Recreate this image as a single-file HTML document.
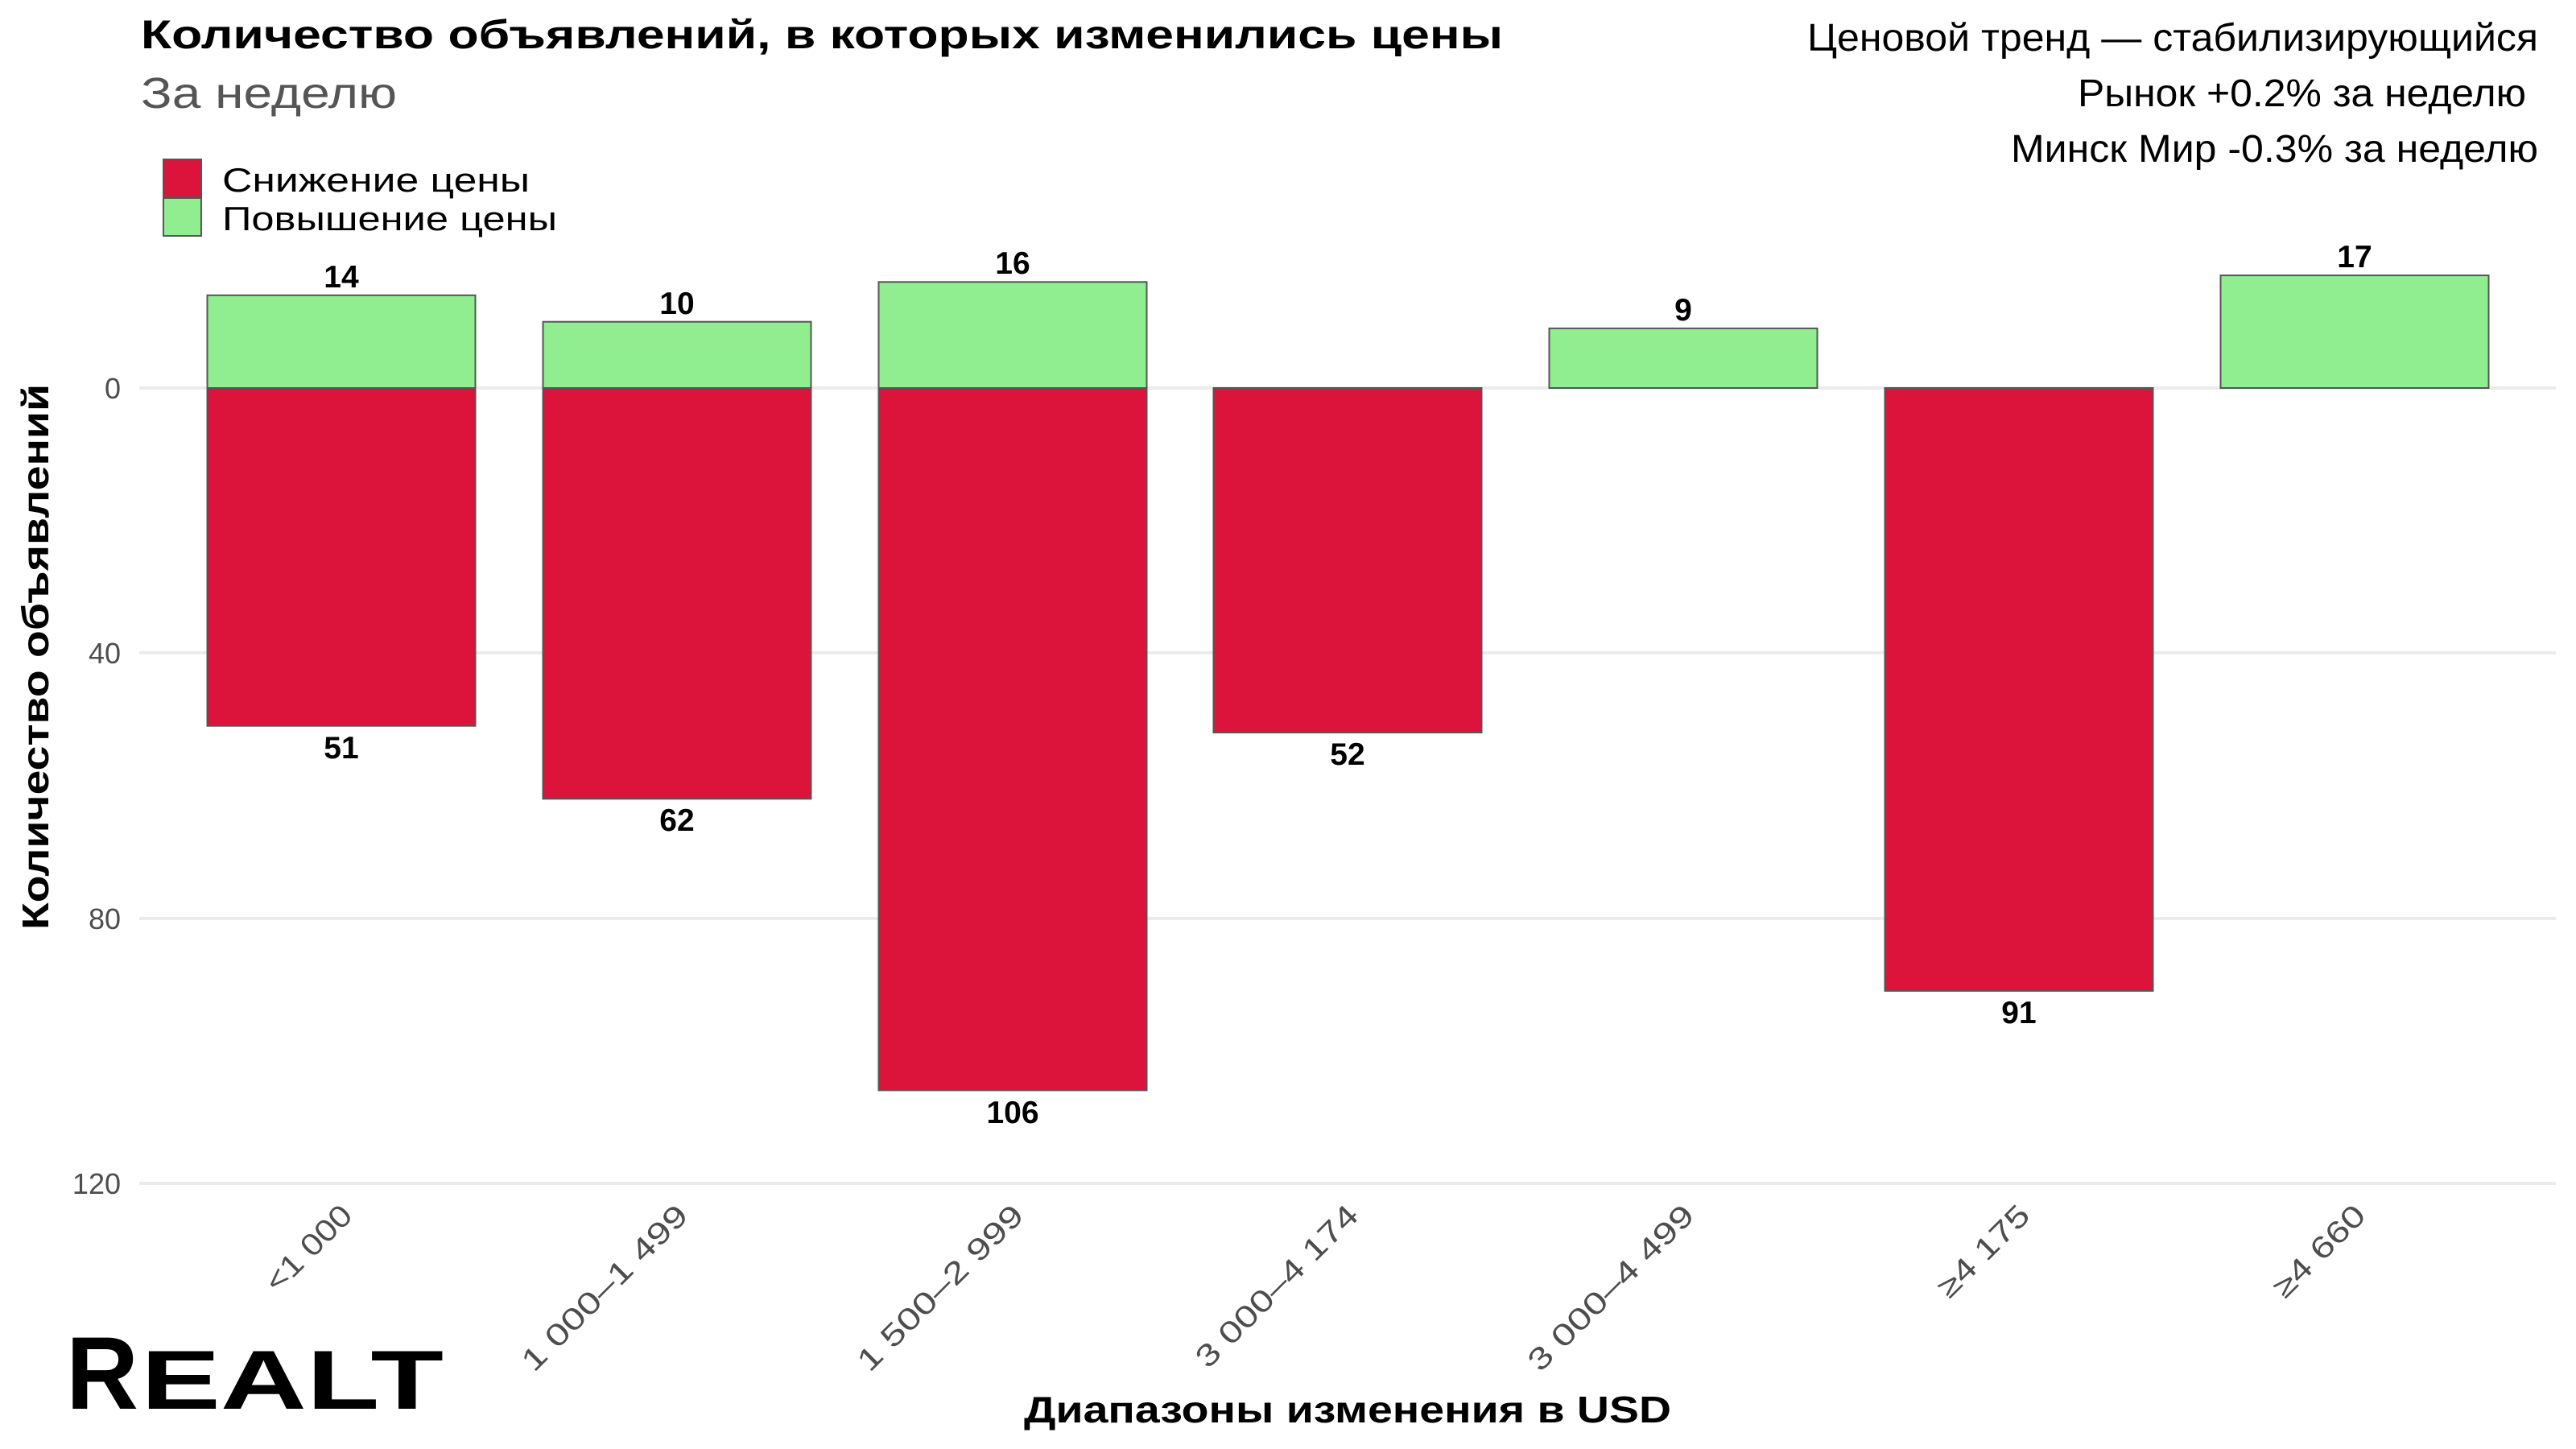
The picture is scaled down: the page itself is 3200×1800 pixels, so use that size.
<!DOCTYPE html>
<html><head><meta charset="utf-8"><style>
html,body{margin:0;padding:0;background:#fff;}
svg{display:block;font-family:"Liberation Sans","Noto Sans CJK SC",sans-serif;}
</style></head><body>
<svg width="3200" height="1800" viewBox="0 0 3200 1800" xmlns="http://www.w3.org/2000/svg">
<rect width="3200" height="1800" fill="#fff"/>
<!-- grid -->
<g stroke="#ebebeb" stroke-width="4">
<line x1="173" x2="3175" y1="482" y2="482"/>
<line x1="173" x2="3175" y1="811" y2="811"/>
<line x1="173" x2="3175" y1="1141" y2="1141"/>
<line x1="173" x2="3175" y1="1470" y2="1470"/>
</g>
<g font-size="36" fill="#4d4d4d" text-anchor="end">
<text x="150" y="495">0</text>
<text x="150" y="824">40</text>
<text x="150" y="1154">80</text>
<text x="150" y="1483">120</text>
</g>
<!-- bars -->
<g stroke="#555" stroke-width="2">
<rect x="257.5" y="366.8" width="333" height="115.2" fill="#90EE90"/>
<rect x="257.5" y="482" width="333" height="419.7" fill="#DC143C"/>
<rect x="674.5" y="399.7" width="333" height="82.3" fill="#90EE90"/>
<rect x="674.5" y="482" width="333" height="510.3" fill="#DC143C"/>
<rect x="1091.5" y="350.3" width="333" height="131.7" fill="#90EE90"/>
<rect x="1091.5" y="482" width="333" height="872.4" fill="#DC143C"/>
<rect x="1507.5" y="482" width="333" height="428" fill="#DC143C"/>
<rect x="1924.5" y="407.9" width="333" height="74.1" fill="#90EE90"/>
<rect x="2341.5" y="482" width="333" height="748.9" fill="#DC143C"/>
<rect x="2758.5" y="342.1" width="333" height="139.9" fill="#90EE90"/>
</g>
<g font-size="39" font-weight="bold" fill="#000" text-anchor="middle">
<text x="424" y="357">14</text>
<text x="841" y="390">10</text>
<text x="1258" y="340">16</text>
<text x="2091" y="398">9</text>
<text x="2925" y="332">17</text>
<text x="424" y="942">51</text>
<text x="841" y="1032">62</text>
<text x="1258" y="1395">106</text>
<text x="1674" y="950">52</text>
<text x="2508" y="1271">91</text>
</g>
<!-- x tick labels -->
<g font-size="38" fill="#4d4d4d" text-anchor="end" lengthAdjust="spacingAndGlyphs">
<text transform="translate(440,1512) rotate(-45)" textLength="135" lengthAdjust="spacingAndGlyphs">&lt;1 000</text>
<text transform="translate(857,1512) rotate(-45)" textLength="274" lengthAdjust="spacingAndGlyphs">1 000–1 499</text>
<text transform="translate(1274,1512) rotate(-45)" textLength="274" lengthAdjust="spacingAndGlyphs">1 500–2 999</text>
<text transform="translate(1690,1512) rotate(-45)" textLength="268" lengthAdjust="spacingAndGlyphs">3 000–4 174</text>
<text transform="translate(2107,1512) rotate(-45)" textLength="274" lengthAdjust="spacingAndGlyphs">3 000–4 499</text>
<text transform="translate(2524,1512) rotate(-45)" textLength="145" lengthAdjust="spacingAndGlyphs">≥4 175</text>
<text transform="translate(2941,1512) rotate(-45)" textLength="145" lengthAdjust="spacingAndGlyphs">≥4 660</text>
</g>
<!-- axis titles -->
<text x="1674" y="1767" font-size="46" font-weight="bold" text-anchor="middle" textLength="804" lengthAdjust="spacingAndGlyphs">Диапазоны изменения в USD</text>
<text transform="translate(60,816) rotate(-90)" font-size="46" font-weight="bold" text-anchor="middle" textLength="678" lengthAdjust="spacingAndGlyphs">Количество объявлений</text>
<!-- title -->
<text x="175" y="60" font-size="50" font-weight="bold" textLength="1692" lengthAdjust="spacingAndGlyphs">Количество объявлений, в которых изменились цены</text>
<text x="175" y="134" font-size="54" fill="#555" textLength="318" lengthAdjust="spacingAndGlyphs">За неделю</text>
<!-- legend -->
<rect x="203" y="198" width="47" height="47" fill="#DC143C" stroke="#555" stroke-width="2"/>
<rect x="203" y="246" width="47" height="47" fill="#90EE90" stroke="#555" stroke-width="2"/>
<text x="276" y="238" font-size="42" textLength="382" lengthAdjust="spacingAndGlyphs">Снижение цены</text>
<text x="276" y="286" font-size="42" textLength="416" lengthAdjust="spacingAndGlyphs">Повышение цены</text>
<!-- right notes -->
<g font-size="48" text-anchor="end">
<text x="3153" y="63" textLength="908" lengthAdjust="spacingAndGlyphs">Ценовой тренд — стабилизирующийся</text>
<text x="3138" y="132" textLength="557" lengthAdjust="spacingAndGlyphs">Рынок +0.2% за неделю</text>
<text x="3153" y="201" textLength="655" lengthAdjust="spacingAndGlyphs">Минск Мир -0.3% за неделю</text>
</g>
<!-- logo -->
<text x="82" y="1750" font-weight="900" font-size="128" textLength="90" lengthAdjust="spacingAndGlyphs">R</text>
<text x="175" y="1750" font-weight="900" font-size="104" textLength="376" lengthAdjust="spacingAndGlyphs">EALT</text>
</svg>
</body></html>
